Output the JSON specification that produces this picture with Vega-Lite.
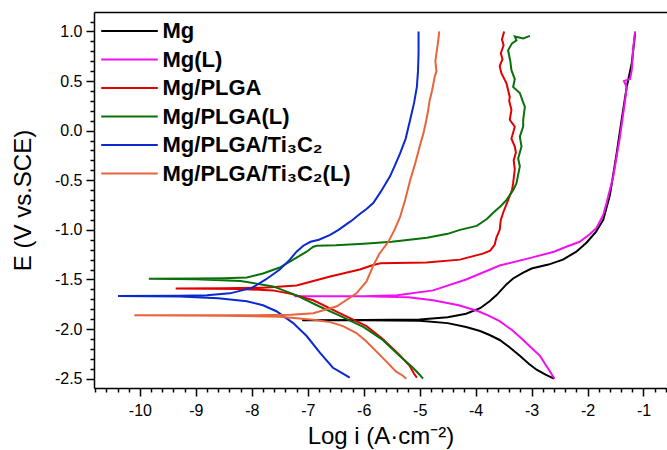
{
  "$schema": "https://vega.github.io/schema/vega-lite/v6.json",
  "width": 573,
  "height": 376,
  "autosize": {"type": "none"},
  "padding": {"left": 94, "top": 12, "right": 0, "bottom": 62},
  "background": "white",
  "config": {
    "view": {"stroke": null},
    "axis": {"grid": false, "domainColor": "black", "domainWidth": 1.5, "tickColor": "black", "tickWidth": 1.5,
      "labelFont": "Liberation Sans", "labelFontSize": 16, "labelColor": "black",
      "titleFont": "Liberation Sans", "titleFontWeight": "normal", "titleColor": "black"},
    "legend": {"orient": "none", "legendX": 15, "legendY": 8, "padding": 0, "title": null, "labelLimit": 400,
      "labelFont": "Liberation Sans", "labelFontSize": 22, "labelFontWeight": "bold", "labelColor": "black",
      "symbolType": "M-4,0H4", "symbolSize": 200, "symbolStrokeWidth": 2, "symbolOffset": 9.5,
      "rowPadding": 6.5, "labelOffset": 22}
  },
  "data": {"values": [
    {"s":"Mg","x":-2.60,"y":-2.50},{"s":"Mg","x":-2.75,"y":-2.46},{"s":"Mg","x":-2.91,"y":-2.41},{"s":"Mg","x":-3.05,"y":-2.35},{"s":"Mg","x":-3.21,"y":-2.27},{"s":"Mg","x":-3.40,"y":-2.18},{"s":"Mg","x":-3.57,"y":-2.11},{"s":"Mg","x":-3.75,"y":-2.06},{"s":"Mg","x":-3.92,"y":-2.02},{"s":"Mg","x":-4.17,"y":-1.98},{"s":"Mg","x":-4.5,"y":-1.94},{"s":"Mg","x":-5.0,"y":-1.915},{"s":"Mg","x":-6.0,"y":-1.91},{"s":"Mg","x":-7.10,"y":-1.91},{"s":"Mg","x":-6.0,"y":-1.908},{"s":"Mg","x":-5.0,"y":-1.903},{"s":"Mg","x":-4.5,"y":-1.88},{"s":"Mg","x":-4.17,"y":-1.845},{"s":"Mg","x":-3.92,"y":-1.79},{"s":"Mg","x":-3.75,"y":-1.72},{"s":"Mg","x":-3.63,"y":-1.66},{"s":"Mg","x":-3.45,"y":-1.55},{"s":"Mg","x":-3.33,"y":-1.49},{"s":"Mg","x":-3.15,"y":-1.43},{"s":"Mg","x":-3.0,"y":-1.39},{"s":"Mg","x":-2.7,"y":-1.35},{"s":"Mg","x":-2.44,"y":-1.30},{"s":"Mg","x":-2.2,"y":-1.22},{"s":"Mg","x":-2.02,"y":-1.13},{"s":"Mg","x":-1.85,"y":-1.02},{"s":"Mg","x":-1.72,"y":-0.90},{"s":"Mg","x":-1.6,"y":-0.65},{"s":"Mg","x":-1.48,"y":-0.23},{"s":"Mg","x":-1.38,"y":0.15},{"s":"Mg","x":-1.30,"y":0.44},{"s":"Mg","x":-1.21,"y":0.68},{"s":"Mg","x":-1.15,"y":0.98},

    {"s":"Mg(L)","x":-2.59,"y":-2.50},{"s":"Mg(L)","x":-2.68,"y":-2.42},{"s":"Mg(L)","x":-2.85,"y":-2.27},{"s":"Mg(L)","x":-3.0,"y":-2.19},{"s":"Mg(L)","x":-3.15,"y":-2.11},{"s":"Mg(L)","x":-3.35,"y":-2.01},{"s":"Mg(L)","x":-3.57,"y":-1.92},{"s":"Mg(L)","x":-3.75,"y":-1.87},{"s":"Mg(L)","x":-3.95,"y":-1.82},{"s":"Mg(L)","x":-4.3,"y":-1.76},{"s":"Mg(L)","x":-4.76,"y":-1.71},{"s":"Mg(L)","x":-5.2,"y":-1.68},{"s":"Mg(L)","x":-6.0,"y":-1.67},{"s":"Mg(L)","x":-7.24,"y":-1.67},{"s":"Mg(L)","x":-6.0,"y":-1.668},{"s":"Mg(L)","x":-5.4,"y":-1.66},{"s":"Mg(L)","x":-4.76,"y":-1.61},{"s":"Mg(L)","x":-4.17,"y":-1.50},{"s":"Mg(L)","x":-3.57,"y":-1.36},{"s":"Mg(L)","x":-3.0,"y":-1.28},{"s":"Mg(L)","x":-2.6,"y":-1.22},{"s":"Mg(L)","x":-2.38,"y":-1.17},{"s":"Mg(L)","x":-2.14,"y":-1.12},{"s":"Mg(L)","x":-1.95,"y":-1.04},{"s":"Mg(L)","x":-1.84,"y":-0.98},{"s":"Mg(L)","x":-1.72,"y":-0.85},{"s":"Mg(L)","x":-1.66,"y":-0.73},{"s":"Mg(L)","x":-1.54,"y":-0.46},{"s":"Mg(L)","x":-1.42,"y":-0.06},{"s":"Mg(L)","x":-1.33,"y":0.30},{"s":"Mg(L)","x":-1.30,"y":0.44},{"s":"Mg(L)","x":-1.35,"y":0.50},{"s":"Mg(L)","x":-1.24,"y":0.52},{"s":"Mg(L)","x":-1.21,"y":0.61},{"s":"Mg(L)","x":-1.18,"y":0.85},{"s":"Mg(L)","x":-1.15,"y":1.0},

    {"s":"Mg/PLGA","x":-5.05,"y":-2.49},{"s":"Mg/PLGA","x":-5.10,"y":-2.45},{"s":"Mg/PLGA","x":-5.18,"y":-2.37},{"s":"Mg/PLGA","x":-5.36,"y":-2.26},{"s":"Mg/PLGA","x":-5.66,"y":-2.10},{"s":"Mg/PLGA","x":-5.95,"y":-1.97},{"s":"Mg/PLGA","x":-6.43,"y":-1.84},{"s":"Mg/PLGA","x":-6.90,"y":-1.71},{"s":"Mg/PLGA","x":-7.3,"y":-1.645},{"s":"Mg/PLGA","x":-7.62,"y":-1.61},{"s":"Mg/PLGA","x":-8.2,"y":-1.597},{"s":"Mg/PLGA","x":-9.36,"y":-1.59},{"s":"Mg/PLGA","x":-8.5,"y":-1.589},{"s":"Mg/PLGA","x":-7.8,"y":-1.583},{"s":"Mg/PLGA","x":-7.2,"y":-1.56},{"s":"Mg/PLGA","x":-6.6,"y":-1.47},{"s":"Mg/PLGA","x":-6.07,"y":-1.40},{"s":"Mg/PLGA","x":-5.83,"y":-1.355},{"s":"Mg/PLGA","x":-5.7,"y":-1.337},{"s":"Mg/PLGA","x":-4.88,"y":-1.33},{"s":"Mg/PLGA","x":-4.28,"y":-1.30},{"s":"Mg/PLGA","x":-3.87,"y":-1.24},{"s":"Mg/PLGA","x":-3.74,"y":-1.21},{"s":"Mg/PLGA","x":-3.66,"y":-1.15},{"s":"Mg/PLGA","x":-3.63,"y":-1.08},{"s":"Mg/PLGA","x":-3.57,"y":-1.0},{"s":"Mg/PLGA","x":-3.55,"y":-0.90},{"s":"Mg/PLGA","x":-3.51,"y":-0.83},{"s":"Mg/PLGA","x":-3.42,"y":-0.70},{"s":"Mg/PLGA","x":-3.35,"y":-0.60},{"s":"Mg/PLGA","x":-3.33,"y":-0.53},{"s":"Mg/PLGA","x":-3.30,"y":-0.39},{"s":"Mg/PLGA","x":-3.32,"y":-0.30},{"s":"Mg/PLGA","x":-3.28,"y":-0.22},{"s":"Mg/PLGA","x":-3.30,"y":-0.16},{"s":"Mg/PLGA","x":-3.36,"y":-0.08},{"s":"Mg/PLGA","x":-3.30,"y":0.04},{"s":"Mg/PLGA","x":-3.39,"y":0.11},{"s":"Mg/PLGA","x":-3.36,"y":0.21},{"s":"Mg/PLGA","x":-3.40,"y":0.30},{"s":"Mg/PLGA","x":-3.39,"y":0.34},{"s":"Mg/PLGA","x":-3.45,"y":0.48},{"s":"Mg/PLGA","x":-3.54,"y":0.58},{"s":"Mg/PLGA","x":-3.57,"y":0.65},{"s":"Mg/PLGA","x":-3.52,"y":0.72},{"s":"Mg/PLGA","x":-3.55,"y":0.78},{"s":"Mg/PLGA","x":-3.50,"y":0.86},{"s":"Mg/PLGA","x":-3.53,"y":0.92},{"s":"Mg/PLGA","x":-3.49,"y":1.0},

    {"s":"Mg/PLGA(L)","x":-4.94,"y":-2.50},{"s":"Mg/PLGA(L)","x":-5.0,"y":-2.46},{"s":"Mg/PLGA(L)","x":-5.12,"y":-2.39},{"s":"Mg/PLGA(L)","x":-5.36,"y":-2.27},{"s":"Mg/PLGA(L)","x":-5.66,"y":-2.11},{"s":"Mg/PLGA(L)","x":-6.0,"y":-1.98},{"s":"Mg/PLGA(L)","x":-6.45,"y":-1.86},{"s":"Mg/PLGA(L)","x":-6.8,"y":-1.77},{"s":"Mg/PLGA(L)","x":-7.2,"y":-1.66},{"s":"Mg/PLGA(L)","x":-7.62,"y":-1.57},{"s":"Mg/PLGA(L)","x":-8.2,"y":-1.515},{"s":"Mg/PLGA(L)","x":-9.0,"y":-1.497},{"s":"Mg/PLGA(L)","x":-9.84,"y":-1.493},{"s":"Mg/PLGA(L)","x":-9.0,"y":-1.49},{"s":"Mg/PLGA(L)","x":-8.5,"y":-1.487},{"s":"Mg/PLGA(L)","x":-8.09,"y":-1.48},{"s":"Mg/PLGA(L)","x":-7.8,"y":-1.44},{"s":"Mg/PLGA(L)","x":-7.5,"y":-1.38},{"s":"Mg/PLGA(L)","x":-7.2,"y":-1.28},{"s":"Mg/PLGA(L)","x":-7.02,"y":-1.22},{"s":"Mg/PLGA(L)","x":-6.90,"y":-1.17},{"s":"Mg/PLGA(L)","x":-6.84,"y":-1.16},{"s":"Mg/PLGA(L)","x":-6.5,"y":-1.155},{"s":"Mg/PLGA(L)","x":-6.0,"y":-1.14},{"s":"Mg/PLGA(L)","x":-5.5,"y":-1.12},{"s":"Mg/PLGA(L)","x":-4.87,"y":-1.08},{"s":"Mg/PLGA(L)","x":-4.5,"y":-1.04},{"s":"Mg/PLGA(L)","x":-4.28,"y":-1.0},{"s":"Mg/PLGA(L)","x":-3.98,"y":-0.96},{"s":"Mg/PLGA(L)","x":-3.80,"y":-0.89},{"s":"Mg/PLGA(L)","x":-3.69,"y":-0.83},{"s":"Mg/PLGA(L)","x":-3.55,"y":-0.76},{"s":"Mg/PLGA(L)","x":-3.45,"y":-0.70},{"s":"Mg/PLGA(L)","x":-3.33,"y":-0.60},{"s":"Mg/PLGA(L)","x":-3.27,"y":-0.53},{"s":"Mg/PLGA(L)","x":-3.21,"y":-0.36},{"s":"Mg/PLGA(L)","x":-3.24,"y":-0.28},{"s":"Mg/PLGA(L)","x":-3.18,"y":-0.16},{"s":"Mg/PLGA(L)","x":-3.21,"y":-0.06},{"s":"Mg/PLGA(L)","x":-3.15,"y":0.04},{"s":"Mg/PLGA(L)","x":-3.15,"y":0.11},{"s":"Mg/PLGA(L)","x":-3.12,"y":0.24},{"s":"Mg/PLGA(L)","x":-3.16,"y":0.30},{"s":"Mg/PLGA(L)","x":-3.21,"y":0.38},{"s":"Mg/PLGA(L)","x":-3.33,"y":0.44},{"s":"Mg/PLGA(L)","x":-3.30,"y":0.52},{"s":"Mg/PLGA(L)","x":-3.36,"y":0.61},{"s":"Mg/PLGA(L)","x":-3.38,"y":0.70},{"s":"Mg/PLGA(L)","x":-3.42,"y":0.81},{"s":"Mg/PLGA(L)","x":-3.35,"y":0.88},{"s":"Mg/PLGA(L)","x":-3.27,"y":0.91},{"s":"Mg/PLGA(L)","x":-3.30,"y":0.95},{"s":"Mg/PLGA(L)","x":-3.15,"y":0.93},{"s":"Mg/PLGA(L)","x":-3.03,"y":0.955},

    {"s":"Mg/PLGA/Ti₃C₂","x":-6.25,"y":-2.49},{"s":"Mg/PLGA/Ti₃C₂","x":-6.40,"y":-2.44},{"s":"Mg/PLGA/Ti₃C₂","x":-6.55,"y":-2.39},{"s":"Mg/PLGA/Ti₃C₂","x":-6.78,"y":-2.24},{"s":"Mg/PLGA/Ti₃C₂","x":-7.02,"y":-2.07},{"s":"Mg/PLGA/Ti₃C₂","x":-7.26,"y":-1.94},{"s":"Mg/PLGA/Ti₃C₂","x":-7.56,"y":-1.82},{"s":"Mg/PLGA/Ti₃C₂","x":-7.8,"y":-1.76},{"s":"Mg/PLGA/Ti₃C₂","x":-8.09,"y":-1.72},{"s":"Mg/PLGA/Ti₃C₂","x":-8.6,"y":-1.69},{"s":"Mg/PLGA/Ti₃C₂","x":-9.29,"y":-1.672},{"s":"Mg/PLGA/Ti₃C₂","x":-10.39,"y":-1.667},{"s":"Mg/PLGA/Ti₃C₂","x":-9.3,"y":-1.665},{"s":"Mg/PLGA/Ti₃C₂","x":-8.8,"y":-1.66},{"s":"Mg/PLGA/Ti₃C₂","x":-8.39,"y":-1.64},{"s":"Mg/PLGA/Ti₃C₂","x":-8.0,"y":-1.585},{"s":"Mg/PLGA/Ti₃C₂","x":-7.75,"y":-1.50},{"s":"Mg/PLGA/Ti₃C₂","x":-7.5,"y":-1.40},{"s":"Mg/PLGA/Ti₃C₂","x":-7.32,"y":-1.30},{"s":"Mg/PLGA/Ti₃C₂","x":-7.2,"y":-1.22},{"s":"Mg/PLGA/Ti₃C₂","x":-7.08,"y":-1.16},{"s":"Mg/PLGA/Ti₃C₂","x":-6.95,"y":-1.12},{"s":"Mg/PLGA/Ti₃C₂","x":-6.8,"y":-1.10},{"s":"Mg/PLGA/Ti₃C₂","x":-6.6,"y":-1.05},{"s":"Mg/PLGA/Ti₃C₂","x":-6.45,"y":-1.00},{"s":"Mg/PLGA/Ti₃C₂","x":-6.3,"y":-0.94},{"s":"Mg/PLGA/Ti₃C₂","x":-6.2,"y":-0.90},{"s":"Mg/PLGA/Ti₃C₂","x":-6.07,"y":-0.84},{"s":"Mg/PLGA/Ti₃C₂","x":-5.95,"y":-0.79},{"s":"Mg/PLGA/Ti₃C₂","x":-5.83,"y":-0.73},{"s":"Mg/PLGA/Ti₃C₂","x":-5.7,"y":-0.62},{"s":"Mg/PLGA/Ti₃C₂","x":-5.53,"y":-0.46},{"s":"Mg/PLGA/Ti₃C₂","x":-5.45,"y":-0.36},{"s":"Mg/PLGA/Ti₃C₂","x":-5.35,"y":-0.23},{"s":"Mg/PLGA/Ti₃C₂","x":-5.25,"y":-0.08},{"s":"Mg/PLGA/Ti₃C₂","x":-5.17,"y":0.11},{"s":"Mg/PLGA/Ti₃C₂","x":-5.10,"y":0.28},{"s":"Mg/PLGA/Ti₃C₂","x":-5.05,"y":0.44},{"s":"Mg/PLGA/Ti₃C₂","x":-5.03,"y":0.60},{"s":"Mg/PLGA/Ti₃C₂","x":-5.02,"y":0.78},{"s":"Mg/PLGA/Ti₃C₂","x":-5.02,"y":1.0},

    {"s":"Mg/PLGA/Ti₃C₂(L)","x":-5.24,"y":-2.50},{"s":"Mg/PLGA/Ti₃C₂(L)","x":-5.30,"y":-2.47},{"s":"Mg/PLGA/Ti₃C₂(L)","x":-5.42,"y":-2.43},{"s":"Mg/PLGA/Ti₃C₂(L)","x":-5.66,"y":-2.29},{"s":"Mg/PLGA/Ti₃C₂(L)","x":-5.96,"y":-2.12},{"s":"Mg/PLGA/Ti₃C₂(L)","x":-6.13,"y":-2.04},{"s":"Mg/PLGA/Ti₃C₂(L)","x":-6.37,"y":-1.97},{"s":"Mg/PLGA/Ti₃C₂(L)","x":-6.6,"y":-1.93},{"s":"Mg/PLGA/Ti₃C₂(L)","x":-6.9,"y":-1.905},{"s":"Mg/PLGA/Ti₃C₂(L)","x":-7.5,"y":-1.875},{"s":"Mg/PLGA/Ti₃C₂(L)","x":-8.5,"y":-1.865},{"s":"Mg/PLGA/Ti₃C₂(L)","x":-10.10,"y":-1.86},{"s":"Mg/PLGA/Ti₃C₂(L)","x":-8.0,"y":-1.86},{"s":"Mg/PLGA/Ti₃C₂(L)","x":-7.3,"y":-1.855},{"s":"Mg/PLGA/Ti₃C₂(L)","x":-6.9,"y":-1.84},{"s":"Mg/PLGA/Ti₃C₂(L)","x":-6.48,"y":-1.77},{"s":"Mg/PLGA/Ti₃C₂(L)","x":-6.13,"y":-1.64},{"s":"Mg/PLGA/Ti₃C₂(L)","x":-5.95,"y":-1.52},{"s":"Mg/PLGA/Ti₃C₂(L)","x":-5.83,"y":-1.36},{"s":"Mg/PLGA/Ti₃C₂(L)","x":-5.72,"y":-1.24},{"s":"Mg/PLGA/Ti₃C₂(L)","x":-5.56,"y":-1.12},{"s":"Mg/PLGA/Ti₃C₂(L)","x":-5.45,"y":-1.00},{"s":"Mg/PLGA/Ti₃C₂(L)","x":-5.35,"y":-0.87},{"s":"Mg/PLGA/Ti₃C₂(L)","x":-5.26,"y":-0.70},{"s":"Mg/PLGA/Ti₃C₂(L)","x":-5.17,"y":-0.50},{"s":"Mg/PLGA/Ti₃C₂(L)","x":-5.08,"y":-0.33},{"s":"Mg/PLGA/Ti₃C₂(L)","x":-5.0,"y":-0.16},{"s":"Mg/PLGA/Ti₃C₂(L)","x":-4.93,"y":-0.02},{"s":"Mg/PLGA/Ti₃C₂(L)","x":-4.88,"y":0.11},{"s":"Mg/PLGA/Ti₃C₂(L)","x":-4.85,"y":0.20},{"s":"Mg/PLGA/Ti₃C₂(L)","x":-4.82,"y":0.31},{"s":"Mg/PLGA/Ti₃C₂(L)","x":-4.78,"y":0.40},{"s":"Mg/PLGA/Ti₃C₂(L)","x":-4.73,"y":0.545},{"s":"Mg/PLGA/Ti₃C₂(L)","x":-4.70,"y":0.60},{"s":"Mg/PLGA/Ti₃C₂(L)","x":-4.72,"y":0.70},{"s":"Mg/PLGA/Ti₃C₂(L)","x":-4.70,"y":0.78},{"s":"Mg/PLGA/Ti₃C₂(L)","x":-4.67,"y":0.90},{"s":"Mg/PLGA/Ti₃C₂(L)","x":-4.65,"y":1.0}
  ]},
  "layer": [
    {
      "mark": {"type": "line", "strokeWidth": 2},
      "encoding": {
        "x": {"field": "x", "type": "quantitative", "scale": {"domain": [-10.82, -0.58], "nice": false, "zero": false},
          "axis": {"orient": "bottom", "title": "Log i (A·cm⁻²)", "titleFontSize": 24, "titlePadding": 6,
            "values": [-10.8,-10.6,-10.4,-10.2,-10,-9.8,-9.6,-9.4,-9.2,-9,-8.8,-8.6,-8.4,-8.2,-8,-7.8,-7.6,-7.4,-7.2,-7,-6.8,-6.6,-6.4,-6.2,-6,-5.8,-5.6,-5.4,-5.2,-5,-4.8,-4.6,-4.4,-4.2,-4,-3.8,-3.6,-3.4,-3.2,-3,-2.8,-2.6,-2.4,-2.2,-2,-1.8,-1.6,-1.4,-1.2,-1,-0.8,-0.6],
            "tickSize": {"condition": {"test": "abs(datum.value - round(datum.value)) < 0.001", "value": 8}, "value": 4},
            "labelExpr": "abs(datum.value - round(datum.value)) < 0.001 ? '' + round(datum.value) : ''",
            "labelOverlap": false, "labelPadding": 6, "labelFlush": false}},
        "y": {"field": "y", "type": "quantitative", "scale": {"domain": [-2.594, 1.196], "nice": false, "zero": false},
          "axis": {"title": "E (V vs.SCE)", "titleFontSize": 24, "titlePadding": 19,
            "values": [-2.5,-2.4,-2.3,-2.2,-2.1,-2.0,-1.9,-1.8,-1.7,-1.6,-1.5,-1.4,-1.3,-1.2,-1.1,-1.0,-0.9,-0.8,-0.7,-0.6,-0.5,-0.4,-0.3,-0.2,-0.1,0,0.1,0.2,0.3,0.4,0.5,0.6,0.7,0.8,0.9,1.0,1.1],
            "tickSize": {"condition": {"test": "abs(datum.value*2 - round(datum.value*2)) < 0.001", "value": 8}, "value": 4},
            "labelExpr": "abs(datum.value*2 - round(datum.value*2)) < 0.001 ? replace(format(datum.value, '.1f'), '−', '-') : ''",
            "labelOverlap": false, "labelPadding": 4, "labelFlush": false}},
        "color": {"field": "s", "type": "nominal", "sort": null,
          "scale": {"domain": ["Mg","Mg(L)","Mg/PLGA","Mg/PLGA(L)","Mg/PLGA/Ti₃C₂","Mg/PLGA/Ti₃C₂(L)"],
            "range": ["#000000","#f010f0","#e00000","#0a700a","#0a2ad0","#e8643c"]}},
        "order": {"value": null}
      }
    },
    {
      "mark": {"type": "point", "opacity": 0},
      "encoding": {
        "x": {"field": "x", "type": "quantitative",
          "axis": {"orient": "top", "title": null, "labels": false, "ticks": false, "domain": true}}
      }
    }
  ],
  "resolve": {"axis": {"x": "independent"}}
}
